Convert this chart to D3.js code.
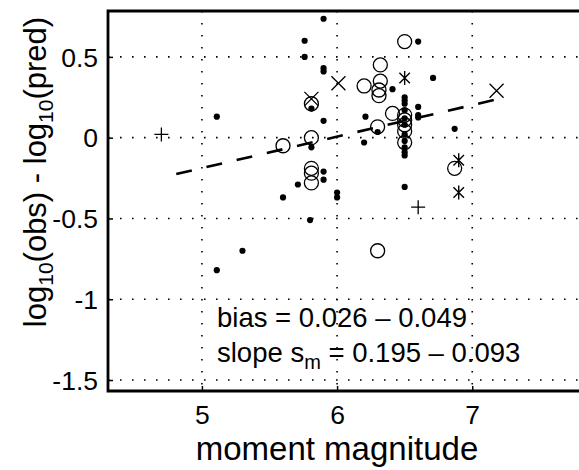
<!DOCTYPE html>
<html><head><meta charset="utf-8">
<script src="https://cdn.jsdelivr.net/npm/d3@7"></script>
<style>body{margin:0;background:#fff}svg{display:block}text{font-family:"Liberation Sans",Arial,Helvetica,sans-serif;fill:#000}</style>
</head><body>
<script>
const xTicks=[5,6,7];
const yTicks=[0.5,0,-0.5,-1,-1.5];
const yTickLabels=["0.5","0","-0.5","-1","-1.5"];
const dotsM=[5.90,5.76,5.76,5.90,5.90,5.81,5.11,5.90,5.81,5.90,5.90,5.71,5.60,6.00,6.00,5.80,5.30,5.11,6.60,6.71,6.41,6.50,6.50,6.50,6.60,6.60,6.60,6.21,6.30,6.20,6.87,6.50,6.50,6.50,6.50,6.50,6.50,6.50,6.50,6.50];
const dotsR=[0.736,0.60,0.50,0.43,0.41,0.18,0.13,0.104,-0.06,-0.21,-0.26,-0.29,-0.37,-0.34,-0.37,-0.51,-0.70,-0.82,0.595,0.37,0.30,0.25,0.23,0.21,0.19,0.14,0.125,0.13,0.035,-0.03,0.055,-0.305,-0.06,-0.09,-0.11,0.17,0.12,0.08,0.02,-0.02];
const circM=[5.60,5.81,5.81,5.81,5.81,5.81,6.50,6.32,6.20,6.32,6.31,6.31,6.41,6.50,6.50,6.50,6.50,6.50,6.30,6.87,6.30];
const circR=[-0.05,0.0,0.21,-0.19,-0.22,-0.28,0.595,0.45,0.32,0.35,0.295,0.26,0.15,0.14,0.11,0.08,0.04,-0.03,0.067,-0.19,-0.70];
const crossM=[5.81,6.01,7.18];
const crossR=[0.24,0.337,0.29];
const starM=[6.50,6.90,6.90];
const starR=[0.37,-0.14,-0.34];
const plusM=[4.70,6.60];
const plusR=[0.02,-0.43];
const fitBias=0.026, fitSlope=0.195, fitRef=6.1, fitRange=[4.81,7.18];
const biasText="bias = 0.026 \u2013 0.049";

const W=579,H=470;
const svg=d3.select("body").append("svg").attr("width",W).attr("height",H);
const x=d3.scaleLinear().domain([4.305,7.79]).range([108,579]);
const y=d3.scaleLinear().domain([-1.568,0.784]).range([391,11]);
const L=108,R=579,T=11,B=391;

const g=svg.append("g");
// grid
g.selectAll(".vg").data(xTicks).enter().append("line")
 .attr("x1",d=>x(d)).attr("x2",d=>x(d)).attr("y1",T).attr("y2",B)
 .attr("stroke","#000").attr("stroke-width",1.6).attr("stroke-dasharray","1.6,10.4");
g.selectAll(".hg").data(yTicks).enter().append("line")
 .attr("x1",L).attr("x2",R).attr("y1",d=>y(d)).attr("y2",d=>y(d))
 .attr("stroke","#000").attr("stroke-width",1.6).attr("stroke-dasharray","1.6,10.4");

// axes
const ax=d3.axisBottom(x).tickValues(xTicks).tickSize(-5).tickPadding(14).tickFormat(d3.format("d"));
const axG=svg.append("g").attr("transform",`translate(0,${B})`).call(ax);
const ay=d3.axisLeft(y).tickValues(yTicks).tickSize(-5).tickPadding(10).tickFormat((d,i)=>yTickLabels[i]);
const ayG=svg.append("g").attr("transform",`translate(${L},0)`).call(ay);
[axG,ayG].forEach(a=>{a.select(".domain").remove();a.selectAll("line").attr("stroke","#000").attr("stroke-width",1.5);
 a.selectAll("text").attr("font-size",26.5).attr("font-family","Liberation Sans, Arial, sans-serif").attr("fill","#000");});
ayG.selectAll("text").attr("dy","0.35em");
// frame
svg.append("path").attr("d",`M${R+2},${T}H${L}V${B}H${R+2}`).attr("fill","none").attr("stroke","#000").attr("stroke-width",2.8);

// fit line
svg.append("line").attr("x1",x(fitRange[0])).attr("x2",x(fitRange[1]))
 .attr("y1",y(fitBias+fitSlope*(fitRange[0]-fitRef))).attr("y2",y(fitBias+fitSlope*(fitRange[1]-fitRef)))
 .attr("stroke","#000").attr("stroke-width",2.6).attr("stroke-dasharray","16,15");

const pts=(M,R)=>M.map((m,i)=>[m,R[i]]);
svg.append("g").selectAll("circle").data(pts(circM,circR)).enter().append("circle")
 .attr("cx",d=>x(d[0])).attr("cy",d=>y(d[1])).attr("r",7).attr("fill","none").attr("stroke","#000").attr("stroke-width",1.3);
svg.append("g").selectAll("circle").data(pts(dotsM,dotsR)).enter().append("circle")
 .attr("cx",d=>x(d[0])).attr("cy",d=>y(d[1])).attr("r",3.1).attr("fill","#000");
const s=7;
svg.append("g").selectAll("path").data(pts(crossM,crossR)).enter().append("path")
 .attr("d",d=>{const cx=x(d[0]),cy=y(d[1]);return `M${cx-s},${cy-s}L${cx+s},${cy+s}M${cx-s},${cy+s}L${cx+s},${cy-s}`;})
 .attr("stroke","#000").attr("stroke-width",1.3);
svg.append("g").selectAll("path").data(pts(starM,starR)).enter().append("path")
 .attr("d",d=>{const cx=x(d[0]),cy=y(d[1]);const k=s*0.75;return `M${cx-k},${cy-k}L${cx+k},${cy+k}M${cx-k},${cy+k}L${cx+k},${cy-k}M${cx},${cy-s}L${cx},${cy+s}`;})
 .attr("stroke","#000").attr("stroke-width",1.4);
svg.append("g").selectAll("path").data(pts(plusM,plusR)).enter().append("path")
 .attr("d",d=>{const cx=x(d[0]),cy=y(d[1]);return `M${cx-s},${cy}L${cx+s},${cy}M${cx},${cy-s}L${cx},${cy+s}`;})
 .attr("stroke","#000").attr("stroke-width",1.3);

// annotation
svg.append("text").attr("x",217).attr("y",327).attr("font-size",27.5).text(biasText);
const t2=svg.append("text").attr("x",217).attr("y",362).attr("font-size",27.5);
t2.append("tspan").text("slope s");
t2.append("tspan").attr("font-size",20).attr("dy",7).text("m");
t2.append("tspan").attr("dy",-7).text(" = 0.195 \u2013 0.093");

// axis titles
svg.append("text").attr("x",337).attr("y",460).attr("text-anchor","middle").attr("font-size",33).text("moment magnitude");
const yt=svg.append("text").attr("transform","translate(46,172) rotate(-90)").attr("text-anchor","middle").attr("font-size",31);
yt.append("tspan").text("log");
yt.append("tspan").attr("font-size",21).attr("dy",7).text("10");
yt.append("tspan").attr("dy",-7).text("(obs) - log");
yt.append("tspan").attr("font-size",21).attr("dy",7).text("10");
yt.append("tspan").attr("dy",-7).text("(pred)");
</script>
</body></html>
